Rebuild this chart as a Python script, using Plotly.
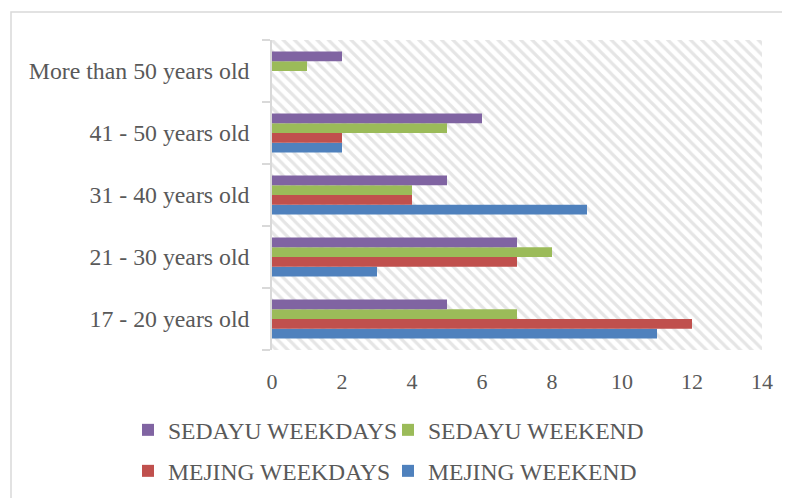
import plotly.graph_objects as go

categories = ["17 - 20 years old", "21 - 30 years old", "31 - 40 years old",
              "41 - 50 years old", "More than 50 years old"]
mejing_weekend = [11, 3, 9, 2, 0]
mejing_weekdays = [12, 7, 4, 2, 0]
sedayu_weekend = [7, 8, 4, 5, 1]
sedayu_weekdays = [5, 7, 5, 6, 2]
x_ticks = [0, 2, 4, 6, 8, 10, 12, 14]

series = [
    ("MEJING WEEKEND", mejing_weekend, "#4F81BD", "legend4"),
    ("MEJING WEEKDAYS", mejing_weekdays, "#C0504D", "legend3"),
    ("SEDAYU WEEKEND", sedayu_weekend, "#9BBB59", "legend2"),
    ("SEDAYU WEEKDAYS", sedayu_weekdays, "#8064A2", "legend"),
]

FONT = "Liberation Serif, Times New Roman, serif"
GREY = "#595959"

W, H = 782, 490           # page is offset by the 8px body margin
L, R, T, B = 264, 28, 32, 148
PW, PH = W - L - R, H - T - B

fig = go.Figure()

# hatched plot-area background
fig.add_trace(go.Bar(
    x=[x_ticks[-1]], y=[0.5], width=[1], orientation="h",
    marker=dict(color="white", line=dict(width=0),
                pattern=dict(shape="\\", fgcolor="#cccccc", bgcolor="white",
                             size=8, solidity=0.4)),
    xaxis="x", yaxis="y", showlegend=False, hoverinfo="skip",
))

for name, vals, color, lg in series:
    fig.add_trace(go.Bar(
        name=name, x=vals, y=categories, orientation="h",
        marker=dict(color=color, line=dict(width=0)),
        xaxis="x", yaxis="y2", legend=lg,
    ))


def leg(xpx, ypx):
    return dict(
        orientation="h",
        font=dict(family=FONT, size=23.6, color=GREY),
        xref="paper", yref="paper", xanchor="left", yanchor="middle",
        x=(xpx - L) / PW, y=1 - (ypx - T) / PH,
        bgcolor="rgba(0,0,0,0)", itemclick=False,
    )


fig.update_layout(
    width=W, height=H,
    margin=dict(l=L, r=R, t=T, b=B, autoexpand=False),
    paper_bgcolor="white", plot_bgcolor="white",
    barmode="group", bargap=0.37, bargroupgap=0,
    font=dict(family=FONT, size=22, color=GREY),
    xaxis=dict(range=[0, 14], tickvals=x_ticks, showgrid=False, zeroline=False,
               showline=False, ticks="", ticklabelstandoff=16,
               tickfont=dict(family=FONT, size=22, color=GREY), fixedrange=True),
    yaxis=dict(range=[0, 1], visible=False, fixedrange=True),
    yaxis2=dict(overlaying="y", side="left", type="category",
                categoryorder="array", categoryarray=categories,
                showline=True, linecolor="#d9d9d9", linewidth=1.5,
                ticks="outside", ticklen=8, tickcolor="#d9d9d9", tickwidth=1.5,
                tickson="boundaries", showgrid=False, ticklabelstandoff=16,
                tickfont=dict(family=FONT, size=23.8, color=GREY), fixedrange=True),
    legend=leg(120, 422),
    legend2=leg(380, 422),
    legend3=leg(120, 463),
    legend4=leg(380, 463),
    shapes=[dict(type="rect", xref="paper", yref="paper",
                 x0=(3 - L) / PW, x1=(W + 20 - L) / PW,
                 y0=(PH - (H + 20 - T)) / PH, y1=(PH - (4 - T)) / PH,
                 line=dict(color="#d9d9d9", width=1.5), layer="below")],
    showlegend=True,
)

fig.write_html("out.html")
